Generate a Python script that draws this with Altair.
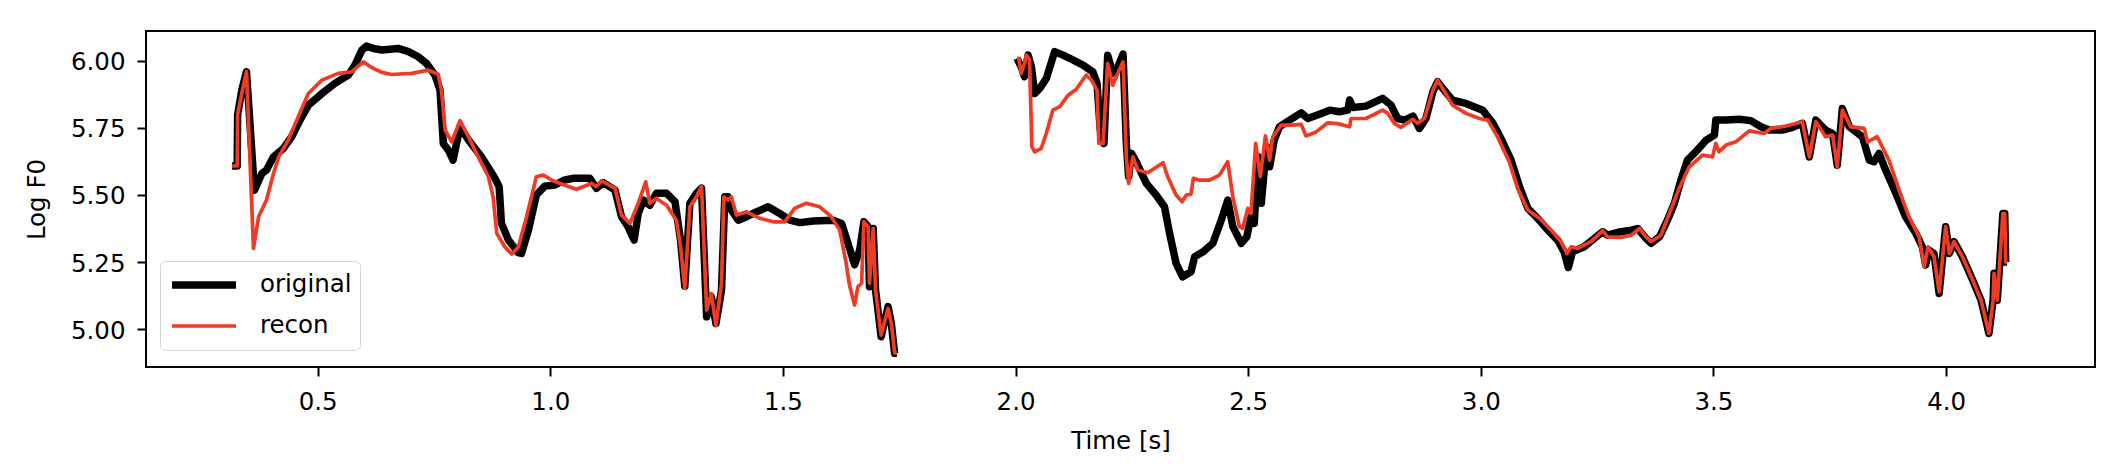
import altair as alt
import pandas as pd

# ---- data (time in s, log F0) ----
orig_t1 = [0.316, 0.327, 0.328, 0.337, 0.347, 0.364, 0.380, 0.390, 0.405, 0.426, 0.444, 0.462, 0.480, 0.509,
           0.537, 0.566, 0.580, 0.595, 0.605, 0.620, 0.638, 0.673, 0.695, 0.716, 0.734, 0.752, 0.763, 0.770,
           0.781, 0.791, 0.806, 0.824, 0.852, 0.881, 0.890, 0.895, 0.910, 0.931, 0.938, 0.953, 0.970, 0.988,
           1.010, 1.031, 1.049, 1.085, 1.099, 1.114, 1.139, 1.153, 1.167, 1.180, 1.189, 1.200, 1.214, 1.228,
           1.250, 1.268, 1.280, 1.289, 1.300, 1.314, 1.325, 1.336, 1.346, 1.356, 1.368, 1.375, 1.382, 1.389,
           1.404, 1.422, 1.443, 1.468, 1.493, 1.515, 1.536, 1.565, 1.608, 1.626, 1.640, 1.654, 1.665, 1.674,
           1.683, 1.686, 1.694, 1.699, 1.711, 1.726, 1.733, 1.740, 1.745]
orig_v1 = [5.608, 5.608, 5.800, 5.891, 5.959, 5.518, 5.580, 5.593, 5.642, 5.673, 5.717, 5.779, 5.835, 5.878,
           5.916, 5.947, 5.984, 6.040, 6.055, 6.046, 6.040, 6.046, 6.034, 6.015, 5.990, 5.947, 5.891, 5.692,
           5.667, 5.630, 5.754, 5.705, 5.642, 5.562, 5.531, 5.394, 5.332, 5.285, 5.282, 5.369, 5.500, 5.533,
           5.537, 5.556, 5.562, 5.562, 5.525, 5.546, 5.518, 5.419, 5.382, 5.332, 5.431, 5.481, 5.462, 5.506,
           5.506, 5.475, 5.330, 5.160, 5.469, 5.506, 5.525, 5.046, 5.121, 5.021, 5.146, 5.493, 5.493, 5.444,
           5.406, 5.419, 5.437, 5.456, 5.431, 5.406, 5.397, 5.403, 5.406, 5.394, 5.319, 5.240, 5.295, 5.400,
           5.382, 5.158, 5.375, 5.146, 4.972, 5.084, 5.021, 4.910, 4.910]

orig_t2 = [2.003, 2.012, 2.019, 2.027, 2.034, 2.041, 2.052, 2.066, 2.084, 2.102, 2.123, 2.145, 2.166, 2.175,
           2.182, 2.190, 2.198, 2.209, 2.220, 2.231, 2.238, 2.243, 2.249, 2.259, 2.281, 2.302, 2.320, 2.331,
           2.345, 2.359, 2.377, 2.385, 2.403, 2.424, 2.442, 2.456, 2.467, 2.485, 2.497, 2.506, 2.513, 2.521,
           2.528, 2.539, 2.546, 2.556, 2.567, 2.589, 2.614, 2.628, 2.653, 2.675, 2.696, 2.714, 2.718, 2.725,
           2.753, 2.789, 2.807, 2.821, 2.836, 2.854, 2.868, 2.882, 2.897, 2.907, 2.918, 2.939, 2.968, 3.004,
           3.026, 3.043, 3.065, 3.083, 3.101, 3.122, 3.144, 3.165, 3.179, 3.188, 3.197, 3.222, 3.244, 3.262,
           3.272, 3.301, 3.323, 3.337, 3.355, 3.366, 3.384, 3.401, 3.416, 3.430, 3.444, 3.462, 3.484, 3.502,
           3.505, 3.527, 3.555, 3.580, 3.602, 3.620, 3.648, 3.670, 3.691, 3.706, 3.720, 3.741, 3.756, 3.766,
           3.777, 3.792, 3.820, 3.835, 3.845, 3.856, 3.870, 3.892, 3.913, 3.935, 3.949, 3.956, 3.963, 3.974,
           3.985, 3.999, 4.007, 4.017, 4.035, 4.057, 4.075, 4.092, 4.101, 4.103, 4.110, 4.122, 4.126, 4.128,
           4.131]
orig_v2 = [6.009, 5.978, 5.941, 6.021, 5.978, 5.878, 5.897, 5.934, 6.034, 6.021, 6.003, 5.984, 5.959, 5.916,
           5.742, 5.692, 6.021, 5.953, 5.978, 6.025, 5.692, 5.568, 5.655, 5.624, 5.543, 5.500, 5.456, 5.357,
           5.245, 5.195, 5.214, 5.270, 5.288, 5.320, 5.406, 5.481, 5.382, 5.320, 5.344, 5.419, 5.394, 5.642,
           5.469, 5.680, 5.605, 5.705, 5.754, 5.779, 5.806, 5.785, 5.801, 5.816, 5.810, 5.816, 5.854, 5.826,
           5.831, 5.860, 5.835, 5.785, 5.779, 5.794, 5.748, 5.785, 5.885, 5.922, 5.897, 5.853, 5.841, 5.816,
           5.767, 5.711, 5.630, 5.531, 5.450, 5.413, 5.369, 5.332, 5.288, 5.230, 5.288, 5.307, 5.338, 5.363,
           5.350, 5.363, 5.369, 5.375, 5.338, 5.320, 5.344, 5.406, 5.469, 5.555, 5.630, 5.661, 5.704, 5.723,
           5.779, 5.779, 5.782, 5.777, 5.754, 5.742, 5.742, 5.752, 5.767, 5.642, 5.779, 5.742, 5.729, 5.611,
           5.822, 5.754, 5.717, 5.630, 5.624, 5.655, 5.593, 5.506, 5.419, 5.357, 5.307, 5.239, 5.295, 5.282,
           5.133, 5.382, 5.282, 5.326, 5.270, 5.183, 5.108, 4.984, 5.108, 5.208, 5.108, 5.431, 5.431, 5.250,
           5.250]

recon_t1 = [0.316, 0.327, 0.328, 0.337, 0.347, 0.362, 0.373, 0.390, 0.405, 0.416, 0.437, 0.455, 0.480, 0.509,
            0.544, 0.573, 0.598, 0.616, 0.638, 0.659, 0.702, 0.738, 0.759, 0.766, 0.774, 0.788, 0.806, 0.824,
            0.845, 0.867, 0.877, 0.885, 0.902, 0.917, 0.931, 0.949, 0.970, 0.985, 1.006, 1.024, 1.056, 1.089,
            1.099, 1.110, 1.139, 1.153, 1.171, 1.189, 1.205, 1.214, 1.228, 1.250, 1.271, 1.280, 1.289, 1.300,
            1.314, 1.325, 1.336, 1.346, 1.356, 1.368, 1.373, 1.382, 1.389, 1.400, 1.422, 1.450, 1.479, 1.504,
            1.525, 1.550, 1.579, 1.604, 1.622, 1.636, 1.643, 1.654, 1.661, 1.669, 1.674, 1.683, 1.686, 1.694,
            1.699, 1.711, 1.726, 1.733, 1.740, 1.745]
recon_v1 = [5.608, 5.608, 5.800, 5.880, 5.959, 5.301, 5.419, 5.481, 5.580, 5.642, 5.705, 5.779, 5.878, 5.928,
            5.953, 5.959, 5.996, 5.975, 5.957, 5.949, 5.953, 5.965, 5.950, 5.891, 5.742, 5.698, 5.777, 5.717,
            5.642, 5.568, 5.493, 5.357, 5.307, 5.280, 5.305, 5.419, 5.568, 5.574, 5.553, 5.541, 5.521, 5.543,
            5.531, 5.553, 5.525, 5.425, 5.394, 5.469, 5.549, 5.469, 5.487, 5.462, 5.406, 5.307, 5.152, 5.456,
            5.493, 5.531, 5.071, 5.133, 5.015, 5.171, 5.493, 5.481, 5.493, 5.425, 5.437, 5.413, 5.400, 5.400,
            5.450, 5.469, 5.456, 5.419, 5.369, 5.245, 5.164, 5.090, 5.158, 5.171, 5.400, 5.382, 5.171, 5.375,
            5.146, 4.978, 5.077, 5.021, 4.912, 4.912]

recon_t2 = [2.003, 2.007, 2.012, 2.019, 2.023, 2.030, 2.035, 2.041, 2.055, 2.066, 2.080, 2.095, 2.113, 2.130,
            2.152, 2.163, 2.175, 2.179, 2.188, 2.198, 2.209, 2.218, 2.231, 2.238, 2.243, 2.252, 2.263, 2.284,
            2.317, 2.327, 2.345, 2.358, 2.367, 2.377, 2.382, 2.395, 2.417, 2.438, 2.456, 2.467, 2.481, 2.488,
            2.499, 2.506, 2.516, 2.526, 2.537, 2.546, 2.553, 2.571, 2.596, 2.614, 2.624, 2.646, 2.671, 2.692,
            2.718, 2.721, 2.753, 2.789, 2.800, 2.814, 2.828, 2.854, 2.864, 2.879, 2.897, 2.907, 2.922, 2.939,
            2.968, 2.997, 3.015, 3.036, 3.061, 3.079, 3.101, 3.126, 3.151, 3.172, 3.185, 3.194, 3.208, 3.237,
            3.262, 3.272, 3.301, 3.323, 3.341, 3.355, 3.366, 3.387, 3.405, 3.426, 3.448, 3.477, 3.498, 3.505,
            3.512, 3.527, 3.548, 3.577, 3.609, 3.623, 3.656, 3.691, 3.706, 3.720, 3.741, 3.756, 3.766, 3.777,
            3.795, 3.824, 3.831, 3.852, 3.877, 3.899, 3.920, 3.942, 3.953, 3.961, 3.974, 3.985, 3.999, 4.007,
            4.017, 4.035, 4.057, 4.075, 4.092, 4.101, 4.103, 4.110, 4.122, 4.126, 4.128, 4.131]
recon_v2 = [6.009, 6.009, 5.953, 5.990, 6.021, 6.003, 5.680, 5.661, 5.673, 5.729, 5.816, 5.829, 5.872, 5.893,
            5.947, 5.928, 5.891, 5.692, 5.692, 5.990, 5.909, 5.947, 5.996, 5.642, 5.543, 5.642, 5.593, 5.583,
            5.620, 5.568, 5.500, 5.475, 5.500, 5.503, 5.562, 5.555, 5.555, 5.574, 5.624, 5.493, 5.382, 5.375,
            5.450, 5.431, 5.692, 5.568, 5.720, 5.630, 5.717, 5.760, 5.760, 5.763, 5.720, 5.735, 5.769, 5.766,
            5.754, 5.785, 5.785, 5.816, 5.804, 5.767, 5.752, 5.782, 5.767, 5.785, 5.891, 5.928, 5.885, 5.835,
            5.804, 5.785, 5.779, 5.717, 5.624, 5.525, 5.444, 5.413, 5.369, 5.326, 5.282, 5.307, 5.301, 5.326,
            5.367, 5.344, 5.342, 5.350, 5.375, 5.344, 5.326, 5.350, 5.430, 5.524, 5.605, 5.649, 5.642, 5.692,
            5.661, 5.686, 5.698, 5.739, 5.729, 5.748, 5.757, 5.773, 5.642, 5.773, 5.717, 5.723, 5.605, 5.816,
            5.754, 5.748, 5.698, 5.717, 5.630, 5.518, 5.419, 5.344, 5.233, 5.307, 5.270, 5.139, 5.382, 5.282,
            5.326, 5.270, 5.183, 5.108, 4.984, 5.108, 5.208, 5.108, 5.431, 5.431, 5.250, 5.250]

series_names = ["original", "recon"]
series_colors = ["#000000", "#ef3b24"]
series_widths = [7.5, 3.7]
x_ticks = [0.5, 1.0, 1.5, 2.0, 2.5, 3.0, 3.5, 4.0]
y_ticks = [5.0, 5.25, 5.5, 5.75, 6.0]

rows = []
for name, seg, ts, vs in [("original", 1, orig_t1, orig_v1), ("original", 2, orig_t2, orig_v2),
                          ("recon", 1, recon_t1, recon_v1), ("recon", 2, recon_t2, recon_v2)]:
    for t, v in zip(ts, vs):
        rows.append({"time": t, "logf0": v, "series": name, "seg": f"{name}-{seg}"})
df = pd.DataFrame(rows)

FONT = "DejaVu Sans"
FS = 24.5

chart = alt.Chart(df).mark_line(strokeJoin="round", strokeCap="butt").encode(
    x=alt.X("time:Q",
            scale=alt.Scale(domain=[0.131, 4.320], nice=False, zero=False),
            axis=alt.Axis(values=x_ticks, format=".1f", title="Time [s]", grid=False, domain=False,
                          tickSize=9, tickWidth=2, tickColor="black",
                          labelFont=FONT, labelFontSize=FS, labelColor="black",
                          labelBaseline="alphabetic", labelPadding=33,
                          titleFont=FONT, titleFontSize=FS, titleFontWeight="normal", titleColor="black",
                          titleX=974.5, titleY=81, titleBaseline="alphabetic", titleAlign="center")),
    y=alt.Y("logf0:Q",
            scale=alt.Scale(domain=[4.859, 6.111], nice=False, zero=False),
            axis=alt.Axis(values=y_ticks, format=".2f", title="Log F0", grid=False, domain=False,
                          tickSize=9, tickWidth=2, tickColor="black",
                          labelFont=FONT, labelFontSize=FS, labelColor="black",
                          labelBaseline="alphabetic", labelOffset=9, labelPadding=12,
                          titleFont=FONT, titleFontSize=FS, titleFontWeight="normal", titleColor="black",
                          titleX=-109, titleY=168, titleAngle=270, titleBaseline="middle",
                          titleAlign="center")),
    color=alt.Color("series:N",
                    scale=alt.Scale(domain=series_names, range=series_colors),
                    legend=alt.Legend(title=None, orient="none", legendX=14, legendY=230,
                                      symbolType="stroke", symbolSize=4096, clipHeight=32,
                                      rowPadding=9, padding=8, labelOffset=20,
                                      labelFont=FONT, labelFontSize=FS, labelColor="black",
                                      strokeColor="#d6d6d6", fillColor="white", cornerRadius=5)),
    strokeWidth=alt.StrokeWidth("series:N",
                                scale=alt.Scale(domain=series_names, range=series_widths)),
    detail="seg:N",
).properties(
    width=1949,
    height=336,
    autosize=alt.AutoSizeParams(type="none"),
    padding={"left": 146, "top": 31, "right": 25, "bottom": 101},
    background="white",
).configure_view(
    stroke="black", strokeWidth=2
)

chart.save("out.html", embed_options={"renderer": "svg", "actions": False})
